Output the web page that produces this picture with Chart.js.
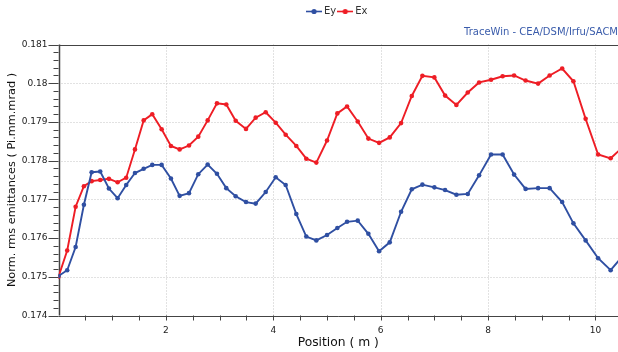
<!DOCTYPE html>
<html><head><meta charset="utf-8">
<script src="https://cdn.jsdelivr.net/npm/chart.js@4.4.1/dist/chart.umd.min.js"></script>
<style>html,body{margin:0;padding:0;background:#fff;overflow:hidden}</style>
</head><body>
<canvas id="c" width="618" height="352"></canvas>
<script>
const positions = [0, 0.162, 0.319, 0.473, 0.617, 0.777, 0.939, 1.101, 1.261, 1.424,
  1.586, 1.746, 1.921, 2.094, 2.256, 2.430, 2.603, 2.778, 2.951, 3.125,
  3.300, 3.492, 3.672, 3.859, 4.045, 4.231, 4.429, 4.615, 4.802, 5.001,
  5.193, 5.374, 5.573, 5.771, 5.970, 6.169, 6.380, 6.579, 6.777, 7.000,
  7.200, 7.410, 7.622, 7.833, 8.056, 8.271, 8.485, 8.699, 8.932, 9.147,
  9.380, 9.590, 9.817, 10.050, 10.283, 10.516];
const ey = [0.17502, 0.17517, 0.17577, 0.17686, 0.17770, 0.17772, 0.17728, 0.17703, 0.17737, 0.17768,
  0.17779, 0.17789, 0.17789, 0.17754, 0.17709, 0.17716, 0.17765, 0.17790, 0.17766, 0.17729,
  0.17708, 0.17693, 0.17689, 0.17719, 0.17757, 0.17737, 0.17662, 0.17604, 0.17594, 0.17608,
  0.17626, 0.17642, 0.17645, 0.17611, 0.17566, 0.17589, 0.17668, 0.17726, 0.17738, 0.17731,
  0.17724, 0.17712, 0.17714, 0.17762, 0.17816, 0.17816, 0.17764, 0.17727, 0.17729, 0.17729,
  0.17693, 0.17638, 0.17594, 0.17548, 0.17517, 0.17555];
const ex = [0.17500, 0.17568, 0.17681, 0.17734, 0.17747, 0.17750, 0.17753, 0.17744, 0.17756, 0.17829,
  0.17904, 0.17920, 0.17881, 0.17838, 0.17829, 0.17839, 0.17862, 0.17904, 0.17948, 0.17945,
  0.17903, 0.17882, 0.17911, 0.17925, 0.17898, 0.17867, 0.17838, 0.17805, 0.17795, 0.17852,
  0.17922, 0.17940, 0.17901, 0.17857, 0.17846, 0.17860, 0.17897, 0.17967, 0.18019, 0.18015,
  0.17968, 0.17944, 0.17976, 0.18002, 0.18009, 0.18018, 0.18020, 0.18007, 0.17999, 0.18020,
  0.18038, 0.18005, 0.17908, 0.17816, 0.17806, 0.17836];
const xTicks = [2, 4, 6, 8, 10];
const yTicks = [0.174, 0.175, 0.176, 0.177, 0.178, 0.179, 0.18, 0.181];
const xMinorStep = 0.5;
const yMinorStep = 0.0002;

const BLUE = '#2f4fa2';
const RED = '#ee1d25';
const FONT = 'DejaVu Sans';

function legendIcon(color) {
  const c = document.createElement('canvas');
  c.width = 16; c.height = 7;
  const g = c.getContext('2d');
  g.strokeStyle = color; g.lineWidth = 1.6;
  g.beginPath(); g.moveTo(0, 3.5); g.lineTo(16, 3.5); g.stroke();
  g.fillStyle = color;
  g.beginPath(); g.arc(8, 3.5, 2.6, 0, Math.PI * 2); g.fill();
  return c;
}

const gridAxesPlugin = {
  id: 'gridAxes',
  beforeDatasetsDraw(chart) {
    const { ctx, chartArea: a, scales: { x, y } } = chart;
    ctx.save();
    ctx.strokeStyle = '#c4c4c4';
    ctx.lineWidth = 1;
    ctx.setLineDash([1, 2]);
    xTicks.forEach(v => {
      const px = Math.round(x.getPixelForValue(v)) + 0.5;
      ctx.beginPath(); ctx.moveTo(px, a.top); ctx.lineTo(px, a.bottom); ctx.stroke();
    });
    yTicks.forEach(v => {
      const py = Math.round(y.getPixelForValue(v)) + 0.5;
      ctx.beginPath(); ctx.moveTo(a.left, py); ctx.lineTo(a.right, py); ctx.stroke();
    });
    ctx.setLineDash([]);
    ctx.strokeStyle = '#444';
    ctx.lineWidth = 1;
    const L = Math.round(a.left) + 0.5, T = Math.round(a.top) + 0.5, B = Math.round(a.bottom) + 0.5;
    ctx.beginPath(); ctx.moveTo(a.left, T); ctx.lineTo(a.right, T); ctx.stroke();
    ctx.beginPath(); ctx.moveTo(a.left, B); ctx.lineTo(a.right, B); ctx.stroke();
    ctx.lineWidth = 1.5;
    ctx.beginPath(); ctx.moveTo(L, a.top); ctx.lineTo(L, a.bottom); ctx.stroke();
    ctx.lineWidth = 1;
    const nY = Math.round((y.max - y.min) / yMinorStep);
    for (let i = 0; i <= nY; i++) {
      const v = y.min + i * yMinorStep;
      const py = Math.round(y.getPixelForValue(v)) + 0.5;
      const len = (i % 5 === 0) ? 10 : 5;
      ctx.beginPath(); ctx.moveTo(a.left - len, py); ctx.lineTo(a.left, py); ctx.stroke();
    }
    const nX = Math.floor((x.max - x.min) / xMinorStep + 1e-6);
    for (let i = 1; i <= nX; i++) {
      const v = x.min + i * xMinorStep;
      const px = Math.round(x.getPixelForValue(v)) + 0.5;
      ctx.beginPath(); ctx.moveTo(px, a.bottom); ctx.lineTo(px, a.bottom + 5); ctx.stroke();
    }
    ctx.restore();
  }
};

new Chart(document.getElementById('c'), {
  type: 'scatter',
  data: {
    datasets: [
      { label: 'Ey', data: positions.map((p, i) => ({ x: p, y: ey[i] })), showLine: true,
        borderColor: BLUE, backgroundColor: BLUE, borderWidth: 1.9, pointRadius: 2.3,
        pointHoverRadius: 2.3, pointStyle: 'circle', pointBorderWidth: 0 },
      { label: 'Ex', data: positions.map((p, i) => ({ x: p, y: ex[i] })), showLine: true,
        borderColor: RED, backgroundColor: RED, borderWidth: 1.9, pointRadius: 2.3,
        pointHoverRadius: 2.3, pointStyle: 'circle', pointBorderWidth: 0 }
    ]
  },
  options: {
    responsive: false,
    animation: false,
    events: [],
    layout: { autoPadding: false, padding: { top: 2.5, right: 0, bottom: 0, left: 0 } },
    scales: {
      x: {
        type: 'linear', min: 0, max: 10.42,
        afterBuildTicks: s => { s.ticks = xTicks.map(v => ({ value: v })); },
        afterFit: s => { s.height = 36.5; s.paddingRight = 0; s.paddingLeft = 0; },
        grid: { display: false, drawTicks: false },
        border: { display: false },
        ticks: { padding: 10, color: '#1a1a1a', font: { family: FONT, size: 9 }, maxRotation: 0 },
        title: { display: true, text: 'Position ( m )', color: '#111', font: { family: FONT, size: 12.3 },
          padding: { top: 0, bottom: 2 } }
      },
      y: {
        type: 'linear', min: 0.174, max: 0.181,
        afterBuildTicks: s => { s.ticks = yTicks.map(v => ({ value: v })); },
        afterFit: s => { s.width = 58.5; },
        grid: { display: false, drawTicks: false },
        border: { display: false },
        ticks: { padding: 11, color: '#1a1a1a', font: { family: FONT, size: 9 },
          callback: v => String(+v.toFixed(3)) },
        title: { display: true, text: 'Norm. rms emittances ( Pi.mm.mrad )', color: '#111',
          font: { family: FONT, size: 11.3 }, padding: { top: 5.5, bottom: 0 } }
      }
    },
    plugins: {
      legend: {
        display: true, position: 'top', align: 'center', fullSize: false,
        labels: {
          usePointStyle: true, color: '#333', font: { family: FONT, size: 10 }, padding: 4,
          generateLabels: chart => chart.data.datasets.map((d, i) => ({
            text: d.label, pointStyle: legendIcon(d.borderColor), fontColor: '#333',
            datasetIndex: i, hidden: false, lineWidth: 0, strokeStyle: d.borderColor, fillStyle: d.borderColor
          }))
        }
      },
      title: {
        display: true, text: 'TraceWin - CEA/DSM/Irfu/SACM', align: 'end', weight: 500,
        color: '#3a5cab', font: { family: FONT, size: 10, weight: 'normal' }, padding: { top: 0, bottom: 6 }
      },
      tooltip: { enabled: false }
    }
  },
  plugins: [gridAxesPlugin]
});
</script>
</body></html>
